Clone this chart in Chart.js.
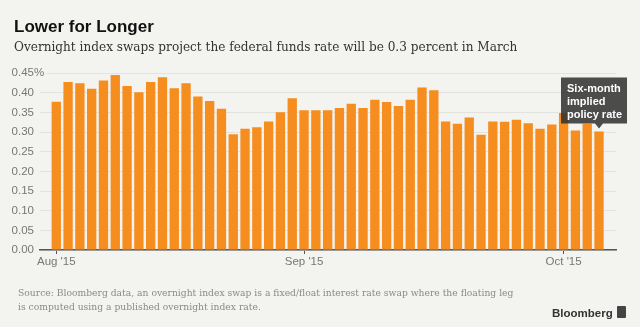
<!DOCTYPE html>
<html>
<head>
<meta charset="utf-8">
<script src="https://cdn.jsdelivr.net/npm/chart.js@4"></script>
<style>
  html, body { margin: 0; padding: 0; background: #f3f3ef; }
  #wrap { position: relative; width: 640px; height: 327px; overflow: hidden; background: #f3f3ef; }
  #chart { position: absolute; left: 0; top: 0; }
  .txt { position: absolute; white-space: nowrap; }
  #title { left: 14px; top: 18px; font: bold 17px "Liberation Sans", Arial, sans-serif; line-height: 17px; color: #111; }
  #subtitle { left: 14px; top: 40px; font: 12.1px "DejaVu Serif", serif; line-height: 14px; color: #333; }
  #source { left: 18px; top: 286px; font: 9.2px "DejaVu Serif", serif; line-height: 13.5px; color: #8a8a8a; }
  #logo { left: 552px; top: 306px; font: bold 11.5px "Liberation Sans", Arial, sans-serif; line-height: 14px; color: #333; }
  #logoIcon { position: absolute; left: 617px; top: 306px; width: 9px; height: 12px; background: #444; border-radius: 1px; }
</style>
</head>
<body>
<div id="wrap">
  <canvas id="chart" width="640" height="327"></canvas>
  <div class="txt" id="title">Lower for Longer</div>
  <div class="txt" id="subtitle">Overnight index swaps project the federal funds rate will be 0.3 percent in March</div>
  <div class="txt" id="source">Source: Bloomberg data, an overnight index swap is a fixed/float interest rate swap where the floating leg<br>is computed using a published overnight index rate.</div>
  <div class="txt" id="logo">Bloomberg</div>
  <div id="logoIcon"></div>
</div>
<script>
// Data: six-month implied policy rate, one bar per trading day (Aug 3 - Oct 6, 2015)
const dates = [
  "Aug 3", "Aug 4", "Aug 5", "Aug 6", "Aug 7", "Aug 10", "Aug 11", "Aug 12", "Aug 13", "Aug 14",
  "Aug 17", "Aug 18", "Aug 19", "Aug 20", "Aug 21", "Aug 24", "Aug 25", "Aug 26", "Aug 27", "Aug 28",
  "Aug 31", "Sep 1", "Sep 2", "Sep 3", "Sep 4", "Sep 7", "Sep 8", "Sep 9", "Sep 10", "Sep 11",
  "Sep 14", "Sep 15", "Sep 16", "Sep 17", "Sep 18", "Sep 21", "Sep 22", "Sep 23", "Sep 24", "Sep 25",
  "Sep 28", "Sep 29", "Sep 30", "Oct 1", "Oct 2", "Oct 5", "Oct 6"
];
const rates = [
  0.377, 0.427, 0.424, 0.410, 0.431, 0.445, 0.417, 0.401, 0.427, 0.439,
  0.411, 0.424, 0.390, 0.379, 0.359, 0.294, 0.308, 0.312, 0.327, 0.350,
  0.386, 0.355, 0.355, 0.355, 0.361, 0.372, 0.361, 0.382, 0.376, 0.366,
  0.382, 0.413, 0.406, 0.327, 0.321, 0.337, 0.293, 0.327, 0.326, 0.331,
  0.322, 0.308, 0.319, 0.348, 0.304, 0.321, 0.301
];
// x tick labels and the bar index they sit under
const monthTicks = ["Aug '15", "Sep '15", "Oct '15"];
const monthTickIdx = [0, 21, 43];
const yTicks = [0, 0.05, 0.10, 0.15, 0.20, 0.25, 0.30, 0.35, 0.40, 0.45];
const noteLines = ["Six-month", "implied", "policy rate"];

const points = rates.map((v, i) => ({ x: i, y: v }));

// draws the "%" after the top y label and the note box over the last bar
const extrasPlugin = {
  id: "extras",
  afterDraw(chart) {
    const ctx = chart.ctx;
    const yScale = chart.scales.y;
    const topY = yScale.getPixelForValue(yTicks[yTicks.length - 1]);
    ctx.save();
    ctx.font = "11.5px 'Liberation Sans', Arial, sans-serif";
    ctx.fillStyle = "#f3f3ef";
    ctx.fillRect(34, topY - 6, 12, 12);
    ctx.fillStyle = "#777";
    ctx.textAlign = "left";
    ctx.textBaseline = "middle";
    ctx.fillText("%", 34, topY);

    // note box
    const meta = chart.getDatasetMeta(0);
    const bar = meta.data[meta.data.length - 1];
    const bx = bar.x, by = bar.y;
    const left = bx - 38, right = bx + 28, bottom = by - 8, top = bottom - 46;
    ctx.fillStyle = "rgba(48,48,48,0.86)";
    ctx.beginPath();
    ctx.moveTo(left, top);
    ctx.lineTo(right, top);
    ctx.lineTo(right, bottom);
    ctx.lineTo(bx + 4, bottom);
    ctx.lineTo(bx, by - 3);
    ctx.lineTo(bx - 4, bottom);
    ctx.lineTo(left, bottom);
    ctx.closePath();
    ctx.fill();
    ctx.fillStyle = "#fff";
    ctx.font = "bold 11px 'Liberation Sans', Arial, sans-serif";
    noteLines.forEach((t, i) => ctx.fillText(t, left + 6, top + 11 + i * 13));
    ctx.restore();
  }
};

new Chart(document.getElementById("chart"), {
  type: "bar",
  data: {
    datasets: [{
      data: points,
      backgroundColor: "#f68d1f",
      borderWidth: 0,
      categoryPercentage: 1,
      barPercentage: 0.79
    }]
  },
  options: {
    responsive: false,
    animation: false,
    layout: { padding: { top: 73, bottom: 57, left: 0, right: 24 } },
    plugins: { legend: { display: false }, tooltip: { enabled: false } },
    scales: {
      x: {
        type: "linear",
        offset: false,
        min: -1.38,
        max: 47.44,
        afterFit(scale) { scale.height = 20; },
        afterBuildTicks(scale) { scale.ticks = monthTickIdx.map(v => ({ value: v })); },
        grid: { offset: false, drawOnChartArea: false, drawTicks: true, tickLength: 4, color: "#555", lineWidth: 1 },
        border: { display: true, color: "#555", width: 1.5 },
        ticks: {
          autoSkip: false,
          maxRotation: 0,
          padding: 1,
          color: "#777",
          font: { family: "'Liberation Sans', Arial, sans-serif", size: 11.5 },
          callback: (v) => monthTicks[monthTickIdx.indexOf(v)]
        }
      },
      y: {
        min: 0,
        max: 0.45,
        afterFit(scale) { scale.width = 40; },
        afterBuildTicks(scale) { scale.ticks = yTicks.map(v => ({ value: v })); },
        grid: { drawTicks: false, color: "#e2e2de", lineWidth: 1 },
        border: { display: false },
        ticks: {
          padding: 6,
          color: "#777",
          font: { family: "'Liberation Sans', Arial, sans-serif", size: 11.5 },
          callback: (v) => v.toFixed(2)
        }
      }
    }
  },
  plugins: [extrasPlugin]
});
</script>
</body>
</html>
